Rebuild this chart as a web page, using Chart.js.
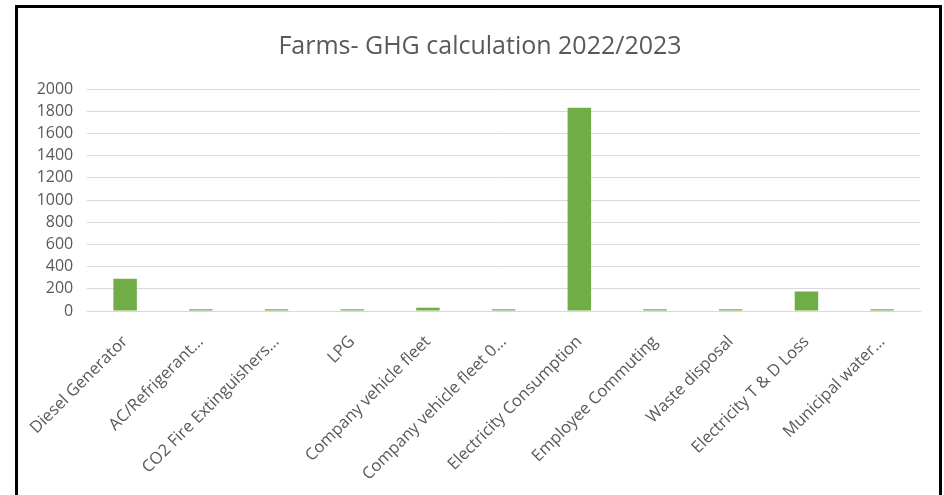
<!DOCTYPE html>
<html>
<head>
<meta charset="utf-8">
<title>Farms- GHG calculation 2022/2023</title>
<script src="https://cdn.jsdelivr.net/npm/chart.js@4"></script>
<style>
  html, body { margin: 0; padding: 0; background: #fff; }
  #wrap { position: relative; width: 944px; height: 495px; overflow: hidden; }
  #ghgChart { position: absolute; left: 17px; top: 0; }
  #frame {
    position: absolute; left: 15px; top: 5px;
    width: 921px; height: 520px;
    border: 3px solid #000; pointer-events: none;
  }
</style>
</head>
<body>
<div id="wrap">
  <canvas id="ghgChart" width="923" height="495"></canvas>
  <div id="frame"></div>
</div>
<script>
/* --- Datos --- */
const categorias = [
  'Diesel Generator',
  'AC/Refrigerant…',
  'CO2 Fire Extinguishers…',
  'LPG',
  'Company vehicle fleet',
  'Company vehicle fleet 0…',
  'Electricity Consumption',
  'Employee Commuting',
  'Waste disposal',
  'Electricity T & D Loss',
  'Municipal water…'
];
const emisiones = [290, 15, 15, 15, 30, 15, 1830, 15, 15, 175, 15];
const yMin = 0;
const yMax = 2000;
const yPaso = 200;

const gris = '#595959';
const fuente = "'Open Sans', 'Noto Sans', sans-serif";

/* --- Centrar el título en todo el marco, no solo en el área de la gráfica --- */
const centrarTitulo = {
  id: 'centrarTitulo',
  afterLayout(chart) {
    if (chart.titleBlock) chart.titleBlock.left += 20;
  }
};

/* --- Gráfica --- */
new Chart(document.getElementById('ghgChart'), {
  type: 'bar',
  data: {
    labels: categorias,
    datasets: [{
      label: 'GHG',
      data: emisiones,
      backgroundColor: '#70AD47',
      borderWidth: 0,
      categoryPercentage: 1,
      barPercentage: 0.31
    }]
  },
  options: {
    responsive: false,
    animation: false,
    layout: { padding: { left: 3, right: 20, top: 0, bottom: 0 } },
    plugins: {
      legend: { display: false },
      tooltip: { enabled: false },
      title: {
        display: true,
        text: 'Farms- GHG calculation 2022/2023',
        color: gris,
        font: { family: fuente, size: 25, weight: 'normal' },
        padding: { top: 32, bottom: 27 }
      }
    },
    scales: {
      x: {
        grid: { display: false },
        border: { color: '#d9d9d9' },
        ticks: {
          color: gris,
          autoSkip: false,
          maxRotation: 45,
          minRotation: 45,
          padding: 13,
          font: { family: fuente, size: 16.5 }
        },
        afterFit: s => { s.height = 184; }
      },
      y: {
        min: yMin,
        max: yMax,
        grid: { color: '#d9d9d9', drawTicks: false },
        border: { display: false },
        ticks: {
          stepSize: yPaso,
          color: gris,
          padding: 14,
          font: { family: fuente, size: 16 },
          callback: v => String(v)
        },
        afterFit: s => { s.width = 66; }
      }
    }
  },
  plugins: [centrarTitulo]
});
</script>
</body>
</html>
